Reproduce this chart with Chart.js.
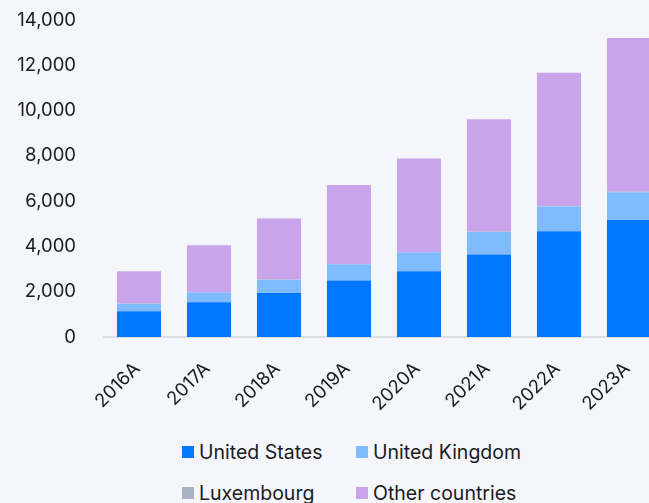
<!DOCTYPE html>
<html>
<head>
<meta charset="utf-8">
<script src="https://cdn.jsdelivr.net/npm/chart.js@4/dist/chart.umd.min.js"></script>
<style>
  html, body { margin: 0; padding: 0; background: #f5f6fb; overflow: hidden; }
  body { width: 649px; height: 503px; position: relative; font-family: "Inter", sans-serif; }
  #wrap { position: absolute; left: 0; top: -11px; width: 680px; height: 431px; }
  #legend {
    position: absolute; left: 182px; top: 440px;
    display: grid; grid-template-columns: 174px auto; row-gap: 17px;
    font-size: 19.5px; color: #1b1b22;
  }
  .item { display: flex; align-items: center; white-space: nowrap; line-height: 24px; }
  .box { width: 12px; height: 12px; margin-right: 5px; flex: none; }
</style>
</head>
<body>
<div id="wrap"><canvas id="chart"></canvas></div>
<div id="legend"></div>
<script>
// data
const years = ["2016A", "2017A", "2018A", "2019A", "2020A", "2021A", "2022A", "2023A"];
const unitedStates = [1140, 1540, 1940, 2500, 2900, 3650, 4670, 5170];
const unitedKingdom = [330, 440, 590, 710, 840, 990, 1100, 1230];
const luxembourg = [10, 10, 10, 15, 15, 15, 20, 20];
const otherCountries = [1430, 2060, 2700, 3490, 4130, 4960, 5880, 6790];
const yTicks = [0, 2000, 4000, 6000, 8000, 10000, 12000, 14000];

const colors = {
    us: "#0077ff",
    uk: "#80bbff",
    lux: "#a9b3c6",
    other: "#c9a4ea"
};

const datasets = [
    { label: "United States", data: unitedStates, backgroundColor: colors.us },
    { label: "United Kingdom", data: unitedKingdom, backgroundColor: colors.uk },
    { label: "Luxembourg", data: luxembourg, backgroundColor: colors.lux },
    { label: "Other countries", data: otherCountries, backgroundColor: colors.other }
];

var ctx = document.getElementById("chart").getContext("2d");
var chart = new Chart(ctx, {
    type: "bar",
    data: {
        labels: years,
        datasets: datasets.map(d => Object.assign({}, d, {
            borderWidth: 0,
            categoryPercentage: 1,
            barPercentage: 0.63
        }))
    },
    options: {
        responsive: true,
        maintainAspectRatio: false,
        animation: false,
        layout: { padding: { top: 0, right: 16, left: 0, bottom: 0 } },
        plugins: {
            legend: { display: false },
            tooltip: { enabled: false }
        },
        scales: {
            x: {
                stacked: true,
                grid: { display: false },
                border: { display: true, color: "#dcdfe7", width: 2 },
                ticks: {
                    color: "#1b1b22",
                    font: { family: "Inter", size: 18.5 },
                    minRotation: 45,
                    maxRotation: 45,
                    padding: 13,
                    labelOffset: -2
                },
                afterFit: function (scale) { scale.height = 83; }
            },
            y: {
                stacked: true,
                min: 0,
                max: 14000,
                grid: { display: false },
                border: { display: false },
                afterBuildTicks: function (scale) {
                    scale.ticks = yTicks.map(v => ({ value: v }));
                },
                ticks: {
                    color: "#1b1b22",
                    font: { family: "Inter", size: 18.5 },
                    padding: 20,
                    callback: v => v.toLocaleString("en-US")
                },
                afterFit: function (scale) { scale.width = 104; }
            }
        }
    }
});

// legend in two rows like the reference
const legend = document.getElementById("legend");
datasets.forEach(d => {
    const item = document.createElement("div");
    item.className = "item";
    const box = document.createElement("span");
    box.className = "box";
    box.style.background = d.backgroundColor;
    item.appendChild(box);
    item.appendChild(document.createTextNode(d.label));
    legend.appendChild(item);
});
</script>
</body>
</html>
